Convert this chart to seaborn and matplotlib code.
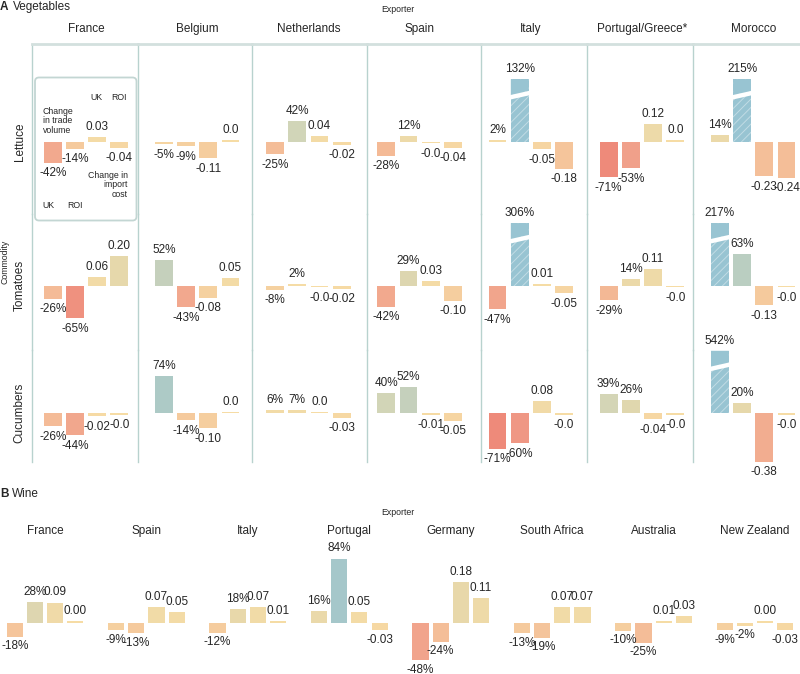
import numpy as np
import pandas as pd
import matplotlib
matplotlib.use("Agg")
import matplotlib.pyplot as plt
import seaborn as sns
from matplotlib.colors import LinearSegmentedColormap, Normalize
from matplotlib.patches import FancyBboxPatch, Polygon

# ---------------- data ----------------
# each cell: UK volume %, ROI volume %, UK import cost, ROI import cost
veg_exporters = ["France", "Belgium", "Netherlands", "Spain", "Italy",
                 "Portugal/Greece*", "Morocco"]
commodities = ["Lettuce", "Tomatoes", "Cucumbers"]

lettuce_uk_vol = [-42, -5, -25, -28, 2, -71, 14]
lettuce_roi_vol = [-14, -9, 42, 12, 132, -53, 215]
lettuce_uk_cost = ["0.03", "-0.11", "0.04", "-0.0", "-0.05", "0.12", "-0.23"]
lettuce_roi_cost = ["-0.04", "0.0", "-0.02", "-0.04", "-0.18", "0.0", "-0.24"]

tomatoes_uk_vol = [-26, 52, -8, -42, -47, -29, 217]
tomatoes_roi_vol = [-65, -43, 2, 29, 306, 14, 63]
tomatoes_uk_cost = ["0.06", "-0.08", "-0.0", "0.03", "0.01", "0.11", "-0.13"]
tomatoes_roi_cost = ["0.20", "0.05", "-0.02", "-0.10", "-0.05", "-0.0", "-0.0"]

cucumbers_uk_vol = [-26, 74, 6, 40, -71, 39, 542]
cucumbers_roi_vol = [-44, -14, 7, 52, -60, 26, 20]
cucumbers_uk_cost = ["-0.02", "-0.10", "0.0", "-0.01", "0.08", "-0.04", "-0.38"]
cucumbers_roi_cost = ["-0.0", "0.0", "-0.03", "-0.05", "-0.0", "-0.0", "-0.0"]

wine_exporters = ["France", "Spain", "Italy", "Portugal", "Germany",
                  "South Africa", "Australia", "New Zealand"]
wine_uk_vol = [-18, -9, -12, 16, -48, -13, -10, -9]
wine_roi_vol = [28, -13, 18, 84, -24, -19, -25, -2]
wine_uk_cost = ["0.09", "0.07", "0.07", "0.05", "0.18", "0.07", "0.01", "0.00"]
wine_roi_cost = ["0.00", "0.05", "0.01", "-0.03", "0.11", "0.07", "0.03", "-0.03"]

veg_rows = [
    (lettuce_uk_vol, lettuce_roi_vol, lettuce_uk_cost, lettuce_roi_cost),
    (tomatoes_uk_vol, tomatoes_roi_vol, tomatoes_uk_cost, tomatoes_roi_cost),
    (cucumbers_uk_vol, cucumbers_roi_vol, cucumbers_uk_cost, cucumbers_roi_cost),
]

# ---------------- style ----------------
sns.set_style("white")
plt.rcParams["font.family"] = ["Liberation Sans", "DejaVu Sans"]
plt.rcParams["hatch.linewidth"] = 0.7

W, H = 800, 674
FS = 8.5
SMALL = 6.3
LINE = "#b8d2ce"

cmap = LinearSegmentedColormap.from_list("trade", [
    (0.00, "#ee8677"), (0.108, "#f09e89"), (0.189, "#f2ab8f"),
    (0.270, "#f4bd98"), (0.341, "#f5cc9e"), (0.389, "#f6d8a3"),
    (0.405, "#f6dca5"), (0.459, "#efdaa8"), (0.514, "#e6d8ab"),
    (0.568, "#dcd6b1"), (0.632, "#d1d5b8"), (0.686, "#c5d0bc"),
    (0.757, "#b8cdc2"), (0.838, "#a7c8c9"), (1.00, "#98c4d2")])
norm = Normalize(-75, 110, clip=True)

COST_SCALE = 300   # a 0.01 change in cost is drawn like a 3 % volume change
CAP = 125          # volume bars above this are drawn broken
MIN_H = 3          # smallest drawn bar (so 0.0 still shows)

fig = plt.figure(figsize=(W / 100, H / 100), dpi=100)


def add_axes_px(left, right, top, bottom):
    return fig.add_axes([left / W, 1 - bottom / H, (right - left) / W, (bottom - top) / H])


def add_break(ax, patch, ppu, colour):
    x0 = patch.get_x()
    x1 = x0 + patch.get_width()
    top = patch.get_y() + patch.get_height()
    a, b, g = 16 / ppu, 11.5 / ppu, 4.5 / ppu
    patch.set_hatch("////")
    patch.set_edgecolor((1, 1, 1, 0.4))
    patch.set_linewidth(0)
    ax.add_patch(Polygon([(x0, top), (x1, top), (x1, top - b), (x0, top - a)],
                         closed=True, facecolor=colour, edgecolor="none", zorder=3))
    ax.add_patch(Polygon([(x0 - 0.05, top - a), (x1 + 0.05, top - b),
                          (x1 + 0.05, top - b - g), (x0 - 0.05, top - a - g)],
                         closed=True, facecolor="white", edgecolor="none", zorder=3.5))


def draw_cell(ax, uk_vol, roi_vol, uk_cost, roi_cost, ylim, ppu, neg_pad=3.1):
    costs = [float(uk_cost), float(roi_cost)]
    vals = [uk_vol, roi_vol, costs[0] * COST_SCALE, costs[1] * COST_SCALE]
    shade = [uk_vol, roi_vol, costs[0] * 100, costs[1] * 100]
    labels = [f"{uk_vol}%", f"{roi_vol}%", uk_cost, roi_cost]
    heights = [np.copysign(max(abs(v), MIN_H), v) for v in vals]
    heights = [min(max(h, ylim[0]), CAP) for h in heights]
    colours = [cmap(norm(s)) for s in shade]
    df = pd.DataFrame({"bar": ["UK vol", "ROI vol", "UK cost", "ROI cost"],
                       "height": heights})
    sns.barplot(data=df, x="bar", y="height", hue="bar", palette=colours,
                saturation=1, errorbar=None, legend=False, width=0.8,
                linewidth=0, ax=ax)
    for i, (p, h, v, lab) in enumerate(zip(ax.patches, heights, vals, labels)):
        if v > CAP:
            add_break(ax, p, ppu, colours[i])
        xc = p.get_x() + p.get_width() / 2
        if h > 0:
            ax.annotate(lab, (xc, h), xytext=(0, 3), textcoords="offset points",
                        ha="center", va="bottom", fontsize=FS, annotation_clip=False)
        else:
            ax.annotate(lab, (xc, h), xytext=(0, -neg_pad), textcoords="offset points",
                        ha="center", va="top", fontsize=FS, annotation_clip=False)
    ax.set(xlabel="", ylabel="", xticks=[], yticks=[])
    ax.set_ylim(ylim)
    ax.patch.set_alpha(0)


# ---------------- panel A: vegetables ----------------
A_sep = [32, 138, 252, 367, 481, 587, 693, 800]
A_centers = [86 + 111.2 * i for i in range(7)]
A_rows = [44, 214, 350, 462]
A_base = [141.7, 285.7, 413.3]
A_ppu, A_pitch = 0.5, 22.2

for r, (uk_v, roi_v, uk_c, roi_c) in enumerate(veg_rows):
    top, bottom, base = A_rows[r], A_rows[r + 1], A_base[r]
    ylim = (-(bottom - base) / A_ppu, (base - top) / A_ppu)
    for c in range(7):
        left, right, xc = A_sep[c], A_sep[c + 1], A_centers[c]
        ax = add_axes_px(left, right, top, bottom)
        draw_cell(ax, uk_v[c], roi_v[c], uk_c[c], roi_c[c], ylim, A_ppu)
        ax.set_xlim(1.5 - (xc - left) / A_pitch, 1.5 + (right - xc) / A_pitch)
        for s in ["right", "bottom", "top"]:
            ax.spines[s].set_visible(False)
        ax.spines["left"].set_color(LINE)
        ax.spines["left"].set_linewidth(1.0)
        if r == 0:
            ax.spines["top"].set_visible(True)
            ax.spines["top"].set_color("#d3e0de")
            ax.spines["top"].set_linewidth(2.0)

# ---------------- panel B: wine ----------------
B_centers = [45 + 101.43 * i for i in range(8)]
B_top, B_bot, B_base = 545, 674, 623.3
B_ppu, B_pitch, B_w = 0.77, 20.2, 101
B_ylim = (-(B_bot - B_base) / B_ppu, (B_base - B_top) / B_ppu)

for c in range(8):
    xc = B_centers[c]
    ax = add_axes_px(xc - B_w / 2, xc + B_w / 2, B_top, B_bot)
    draw_cell(ax, wine_uk_vol[c], wine_roi_vol[c], wine_uk_cost[c], wine_roi_cost[c],
              B_ylim, B_ppu, neg_pad=2.4)
    ax.set_xlim(1.5 - B_w / 2 / B_pitch, 1.5 + B_w / 2 / B_pitch)
    for s in ax.spines.values():
        s.set_visible(False)

# ---------------- text, headers and key ----------------
ov = fig.add_axes([0, 0, 1, 1])
ov.set_xlim(0, W)
ov.set_ylim(H, 0)
ov.axis("off")
ov.patch.set_alpha(0)

ov.text(0, 9.7, "A", fontsize=FS, fontweight="bold", va="baseline")
ov.text(13.3, 9.7, "Vegetables", fontsize=FS, va="baseline")
ov.text(398, 12.5, "Exporter", fontsize=SMALL, ha="center", va="baseline")
for name, xc in zip(veg_exporters, A_centers):
    ov.text(xc, 31.7, name, fontsize=FS, ha="center", va="baseline")
for name, y in zip(commodities, A_base):
    ov.text(19.5, y, name, fontsize=FS, rotation=90, ha="center", va="center")
ov.text(5, 262, "Commodity", fontsize=SMALL, rotation=90, ha="center", va="center")

# key in the France / Lettuce cell
ov.add_patch(FancyBboxPatch((35, 77.5), 101.5, 143, boxstyle="round,pad=0,rounding_size=4",
                            facecolor="none", edgecolor="#c3d6d3", linewidth=1.3))
ov.text(96.8, 100.5, "UK", fontsize=SMALL, ha="center", va="baseline")
ov.text(119.5, 100.5, "ROI", fontsize=SMALL, ha="center", va="baseline")
ov.text(42.7, 106.5, "Change\nin trade\nvolume", fontsize=SMALL, ha="left", va="top",
        linespacing=1.1)
ov.text(128, 170.5, "Change in\nimport\ncost", fontsize=SMALL, ha="right", va="top",
        linespacing=1.1)
ov.text(48, 208, "UK", fontsize=SMALL, ha="center", va="baseline")
ov.text(74.7, 208, "ROI", fontsize=SMALL, ha="center", va="baseline")

ov.text(0, 496.7, "B", fontsize=FS, fontweight="bold", va="baseline")
ov.text(12.3, 496.7, "Wine", fontsize=FS, va="baseline")
ov.text(398, 515, "Exporter", fontsize=SMALL, ha="center", va="baseline")
for name, xc in zip(wine_exporters, B_centers):
    ov.text(xc, 534, name, fontsize=FS, ha="center", va="baseline")

fig.savefig("out.png", dpi=100)
